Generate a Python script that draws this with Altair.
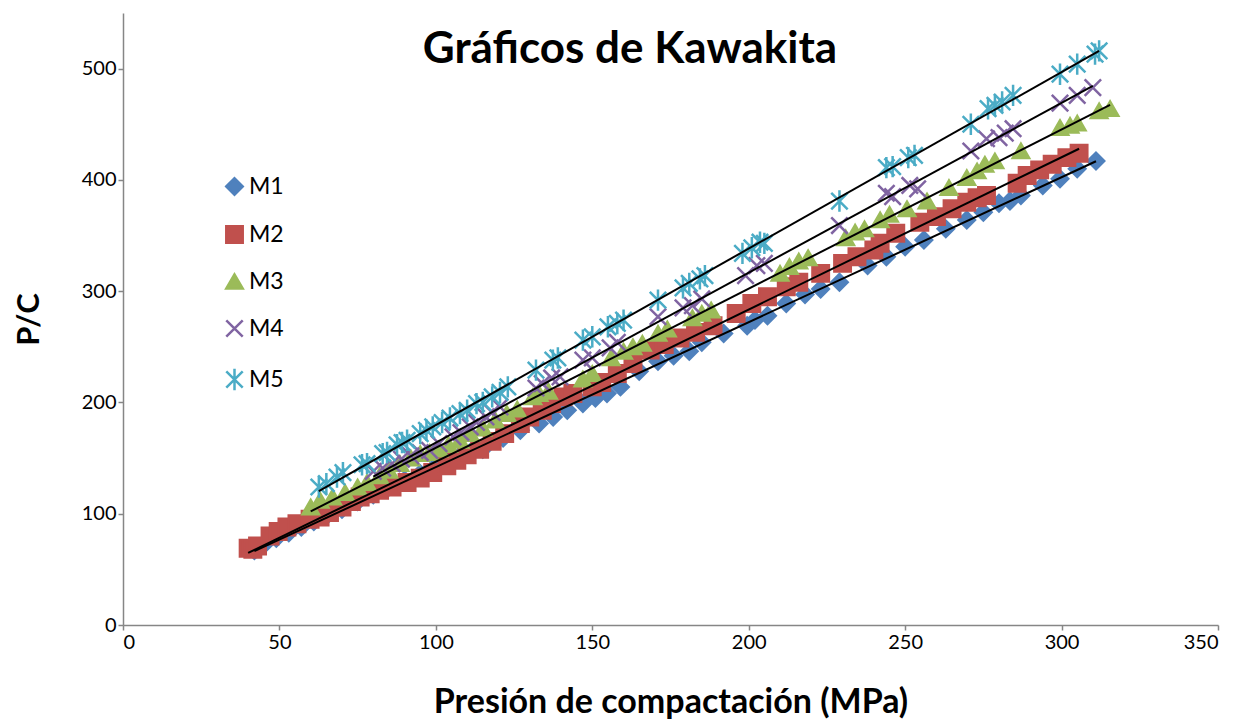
import altair as alt
import pandas as pd

# Compaction pressure (MPa) and P/C for each blend
M1_P = [42, 45, 49, 53, 57, 61, 65, 70, 75, 80, 85, 90, 95, 100, 104, 108, 111, 115, 121.5, 127,
        133, 137.5, 142, 147, 151, 154.7, 159, 165, 171, 176, 181, 185, 192, 199.5, 202, 206, 212, 218, 223, 229,
        238, 244, 250, 256, 263, 269.7, 275, 280, 283.5, 287, 294, 299.5, 305, 311]
M1_C = [67, 72, 78, 83, 88, 93, 98, 104, 111, 117, 124, 130, 136, 143, 148, 153, 155, 158, 168, 175,
        181, 187, 193, 199, 204, 208, 214, 228, 237, 242, 246, 254, 262, 269, 274, 278, 289, 297, 302, 308,
        323, 331, 340, 346, 356, 364, 371, 379, 381, 386, 395, 401, 410, 417]

M2_P = [40, 41.5, 43, 47, 49.6, 52.4, 55.6, 59.8, 63, 66, 70, 73, 75.8, 79, 82, 86, 90.8, 95, 99, 103.5,
        106.7, 110, 114, 118, 122, 127, 130, 134, 137, 140.6, 143.8, 150, 153, 158, 163, 168.5, 173, 178, 183, 188.6,
        196, 201, 206, 212, 216, 223, 230, 234.6, 240, 242, 247, 254.7, 260, 265, 269.7, 273, 276, 285.8, 289, 293,
        297, 301.7, 305.6]
M2_C = [69, 68, 71, 80, 84, 88, 91, 95, 97, 101, 106, 111, 115, 118, 121, 124, 128, 132, 137, 143,
        148, 153, 158, 165, 172, 181, 187, 193, 199, 205, 208, 214, 218, 226, 235, 247, 252, 258, 263, 269,
        280, 289, 295, 304, 308, 316, 325, 331, 337, 343, 352, 362, 367, 374, 380, 384, 386, 397, 404, 409,
        414, 420, 424]

M3_P = [60, 63, 67, 71, 75, 78, 82, 85, 88.5, 92, 95, 98, 101, 104, 107.7, 111, 115, 119, 122.7, 126,
        131, 133, 136, 147, 150, 156, 160, 163, 166, 171, 174, 182, 185, 188, 210, 213, 216, 219, 231, 234,
        237, 242, 245, 250.6, 257, 264, 269.7, 273, 275.5, 278.7, 287, 299.5, 302.7, 305, 312, 315.5]
M3_C = [106, 112, 115, 119, 124, 128, 134, 139, 145, 150, 154, 155, 158, 162, 166, 172, 177, 184, 190, 194,
        205, 208, 210, 221, 226, 240, 246, 250, 253, 262, 266, 276, 280, 283, 316, 322, 327, 330, 348, 353,
        356, 364, 369, 374, 381, 393, 402, 408, 414, 417, 426, 447, 449, 451, 462, 464]

M4_P = [80, 83, 86, 89, 92, 95, 98, 101, 105.5, 108, 111, 113, 116, 118, 120.5, 132, 134, 137, 139.7, 147,
        150, 155.7, 158, 171, 179, 182, 185, 199, 202.6, 205, 229, 244, 246, 251.5, 254, 271, 276, 280, 282, 284.5,
        299.5, 305, 310]
M4_C = [138, 141, 145, 149, 152, 155, 157, 163, 169, 173, 178, 182, 187, 191, 196, 213, 217, 222, 223, 238,
        240, 249, 254, 277, 285, 287, 293, 314, 323, 325, 359, 388, 385, 395, 392, 426, 437, 438, 442, 446,
        469, 476, 483]

M5_P = [62.6, 65, 68.4, 70.3, 76.4, 78, 83, 84.4, 87.6, 89.2, 90.8, 95, 97, 99, 102, 104.5, 107.7, 110, 113, 115,
        118, 120.5, 123, 132, 137.4, 139, 147, 150, 155, 158, 160, 171, 179, 181, 184.4, 186, 198, 201, 203.6, 205,
        229, 244, 246, 251, 253, 271, 276.5, 278.7, 281, 284.5, 299.5, 305, 310.7, 312]
M5_C = [124, 127, 133, 137, 144, 145, 154, 155, 162, 164, 166, 172, 175, 178, 182, 186, 190, 193, 199, 200,
        205, 209, 214, 229, 238, 240, 256, 259, 268, 271, 274, 292, 303, 307, 311, 314, 334, 339, 344, 343,
        381, 411, 412, 420, 422, 450, 464, 467, 470, 476, 495, 504, 513, 516]

SERIES = ["M1", "M2", "M3", "M4", "M5"]
COLORS = ["#4F81BD", "#C0504D", "#9BBB59", "#8064A2", "#4BACC6"]
FILLS = ["#4F81BD", "#C0504D", "#9BBB59", "transparent", "transparent"]
X_PATH = "M-1,-1L1,1M-1,1L1,-1"
STAR_PATH = "M-1,-1L1,1M-1,1L1,-1M0,-1.3L0,1.3"
SHAPES = ["diamond", "square", "triangle-up", X_PATH, STAR_PATH]

X_TICKS = [0, 50, 100, 150, 200, 250, 300, 350]
Y_TICKS = [0, 100, 200, 300, 400, 500]
TITLE = "Gráficos de Kawakita"

rows = []
for name, ps, cs in zip(SERIES, [M1_P, M2_P, M3_P, M4_P, M5_P], [M1_C, M2_C, M3_C, M4_C, M5_C]):
    assert len(ps) == len(cs), name
    rows += [{"serie": name, "P": p, "C": c} for p, c in zip(ps, cs)]
df = pd.DataFrame(rows)

FONT = "Lato"
AXIS_GREY = "#868686"

x_enc = alt.X("P:Q", scale=alt.Scale(domain=[0, 350], nice=False),
              axis=alt.Axis(values=X_TICKS, title="Presión de compactación (MPa)",
                            titleFontSize=34, titlePadding=33))
y_enc = alt.Y("C:Q", scale=alt.Scale(domain=[0, 550], nice=False),
              axis=alt.Axis(values=Y_TICKS, title="P/C", titleFontSize=31, titlePadding=36))

legend = alt.Legend(orient="none", legendX=100, legendY=162, title=None,
                    labelFont=FONT, labelFontSize=23, labelColor="black",
                    symbolSize=270, symbolStrokeWidth=2.5, rowPadding=21, labelOffset=3, padding=0)

points = alt.Chart(df).mark_point(filled=False, opacity=1, size=270, strokeWidth=2.5).encode(
    x=x_enc,
    y=y_enc,
    color=alt.Color("serie:N", scale=alt.Scale(domain=SERIES, range=COLORS), legend=legend),
    fill=alt.Fill("serie:N", scale=alt.Scale(domain=SERIES, range=FILLS), legend=legend),
    shape=alt.Shape("serie:N", scale=alt.Scale(domain=SERIES, range=SHAPES), legend=legend),
)

trend = alt.Chart(df).transform_regression(
    "P", "C", groupby=["serie"], method="linear"
).mark_line(color="black", strokeWidth=2).encode(
    x="P:Q", y="C:Q", detail="serie:N"
)

# chart heading, drawn inside the plot frame
heading = alt.Chart(pd.DataFrame({"t": [TITLE]})).mark_text(
    font=FONT, fontSize=44, fontWeight="bold", color="black",
    align="center", baseline="alphabetic",
).encode(text="t:N", x=alt.value(507), y=alt.value(50))

chart = alt.layer(points, trend, heading).properties(
    width=1095,
    height=612,
    autosize="none",
    padding={"left": 123, "top": 13, "right": 38, "bottom": 96},
).configure_view(stroke=None).configure_axis(
    grid=False,
    domainColor=AXIS_GREY, domainWidth=1.5,
    tickColor=AXIS_GREY, tickSize=5, tickWidth=1.5,
    labelFont=FONT, labelFontSize=20, labelColor="black", labelPadding=2,
    titleFont=FONT, titleFontWeight="bold", titleColor="black",
)

chart.save("out.html", embed_options={"renderer": "svg", "actions": False})
